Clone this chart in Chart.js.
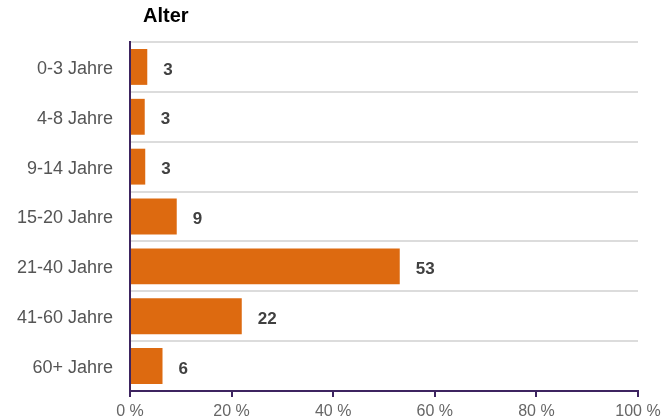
<!DOCTYPE html>
<html>
<head>
<meta charset="utf-8">
<script src="https://cdn.jsdelivr.net/npm/chart.js@4/dist/chart.umd.min.js"></script>
<style>
  html, body { margin: 0; padding: 0; background: #fff; }
  #wrap { width: 663px; height: 420px; position: relative; }
</style>
</head>
<body>
<div id="wrap"><canvas id="chart"></canvas></div>
<script>
// Altersverteilung: Balkenlänge in %, Beschriftung als gerundete Zahl
const TITLE = "Alter";
const CATEGORIES = ["0-3 Jahre", "4-8 Jahre", "9-14 Jahre", "15-20 Jahre", "21-40 Jahre", "41-60 Jahre", "60+ Jahre"];
const SHARES = [3.4, 2.9, 3.0, 9.2, 53.1, 22.0, 6.4];
const LABELS = [3, 3, 3, 9, 53, 22, 6];
const X_TICKS = [0, 20, 40, 60, 80, 100];

const BAR = "#dd6a10", AXIS = "#3d2460", GRID = "#dcdcdc", TXT = "#555", VAL = "#404040";
const FONT = "'Liberation Sans', Arial, sans-serif";

const valueLabels = {
  id: "valueLabels",
  afterDatasetsDraw(chart) {
    const { ctx } = chart;
    const meta = chart.getDatasetMeta(0);
    ctx.save();
    ctx.font = "bold 17px " + FONT;
    ctx.fillStyle = VAL;
    ctx.textBaseline = "middle";
    meta.data.forEach((bar, i) => ctx.fillText(String(LABELS[i]), bar.x + 16, bar.y + 3));
    ctx.restore();
  }
};

const titleText = {
  id: "titleText",
  afterDraw(chart) {
    const { ctx, chartArea } = chart;
    ctx.save();
    ctx.font = "bold 20px " + FONT;
    ctx.fillStyle = "#000";
    ctx.textBaseline = "middle";
    ctx.fillText(TITLE, chartArea.left + 13, 16);
    ctx.restore();
  }
};

new Chart(document.getElementById("chart"), {
  type: "bar",
  data: {
    labels: CATEGORIES,
    datasets: [{ data: SHARES, backgroundColor: BAR, borderWidth: 0,
      categoryPercentage: 0.8, barPercentage: 0.9 }]
  },
  options: {
    indexAxis: "y",
    responsive: true, maintainAspectRatio: false, animation: false,
    layout: { padding: { top: 42, right: 25, left: 0, bottom: 0 } },
    plugins: { legend: { display: false }, tooltip: { enabled: false } },
    scales: {
      x: {
        min: 0, max: 100,
        afterBuildTicks: s => { s.ticks = X_TICKS.map(v => ({ value: v })); },
        afterFit: s => { s.height = 29; s.paddingRight = 0; s.paddingLeft = 0; },
        ticks: { color: "#666", font: { family: FONT, size: 16 }, padding: 5, maxRotation: 0,
          callback: v => v + " %" },
        grid: { drawOnChartArea: false, drawTicks: true, tickLength: 6, color: AXIS, lineWidth: 2 },
        border: { color: AXIS, width: 2 }
      },
      y: {
        afterFit: s => { s.width = 130; },
        ticks: { color: TXT, font: { family: FONT, size: 18 }, padding: 17, labelOffset: 2 },
        grid: { offset: true, drawTicks: false, color: GRID, lineWidth: 2 },
        border: { color: AXIS, width: 2 }
      }
    }
  },
  plugins: [valueLabels, titleText]
});
</script>
</body>
</html>
